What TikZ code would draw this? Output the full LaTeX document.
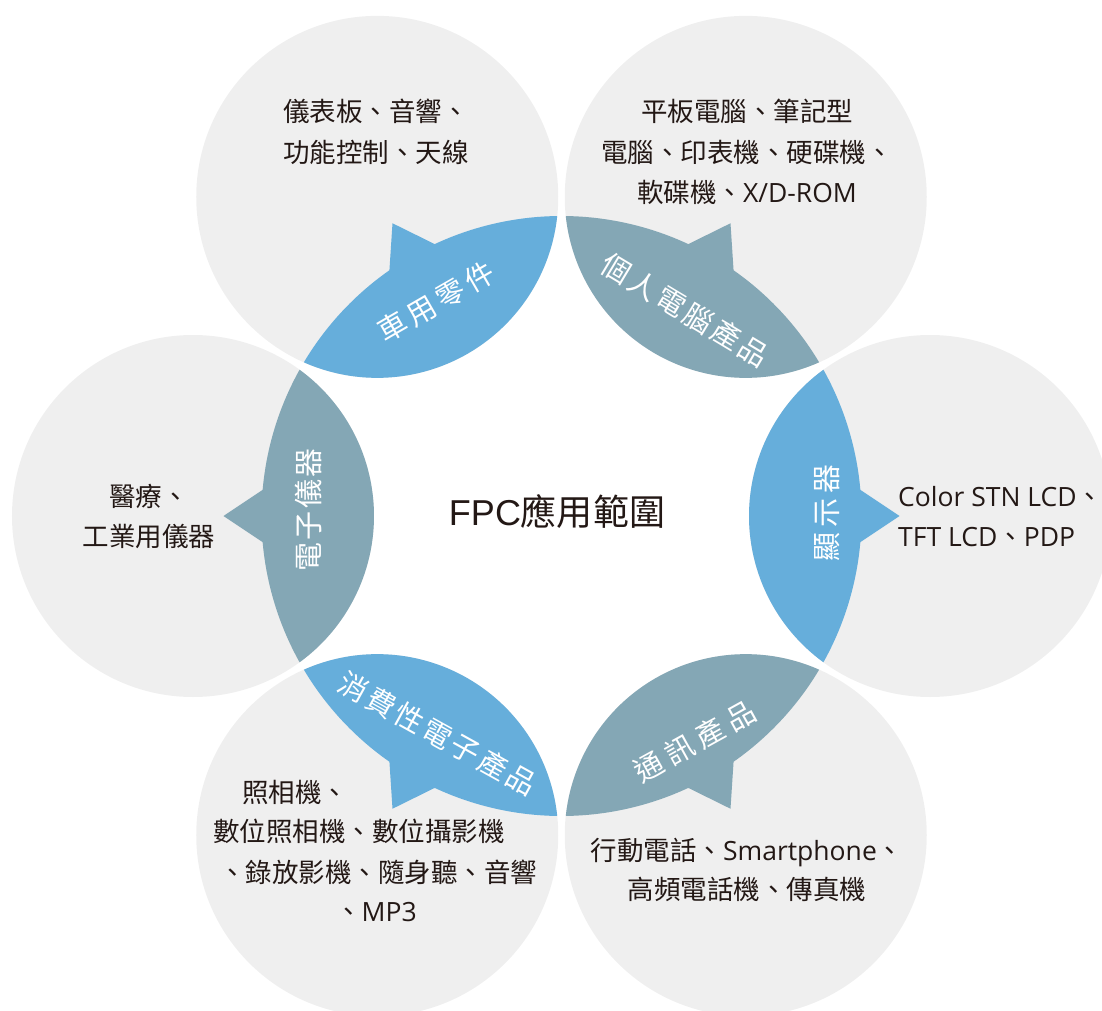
\documentclass[tikz,border=0pt]{standalone}
\usepackage{fontspec}
\setmainfont{Open Sans}
\newfontfamily\cjk{Noto Sans CJK TC}
\newfontfamily\osans{Open Sans}
\newfontfamily\arialf{Liberation Sans}
\definecolor{circfill}{HTML}{EFEFEF}
\definecolor{lensblue}{HTML}{66AEDB}
\definecolor{lensgray}{HTML}{84A7B5}
\definecolor{txtcol}{HTML}{231815}
\tikzset{
  bub/.style={fill=circfill},
  itemtxt/.style={inner sep=0pt, text=txtcol, font=\cjk\fontsize{26.5}{30}\selectfont, text height=23pt, text depth=3.5pt},
  lenstxt/.style={inner sep=0pt, text=white, font=\cjk\fontsize{29}{32}\selectfont},
  centertxt/.style={inner sep=0pt, text=txtcol, font=\arialf\fontsize{36}{40}\selectfont},
}
\begin{document}
\begin{tikzpicture}[x=1pt,y=1pt]
\useasboundingbox (-561.5,-494) rectangle (540.5,516);
\clip (-561.5,-494) rectangle (540.5,516);
% outer circles
\foreach \a in {0,60,...,300} \fill[bub] (\a:368.5) circle[radius=181];
% lens arrows
\foreach \a/\c in {0/lensblue,60/lensgray,120/lensblue,180/lensgray,240/lensblue,300/lensgray}{
  \fill[\c] ({\a-29.185}:300) arc[start angle={\a-29.185}, end angle={\a-5}, radius=300]
    -- (\a:338) -- ({\a+5}:300)
    arc[start angle={\a+5}, end angle={\a+29.185}, radius=300]
    arc[start angle={\a+126.08}, end angle={\a+233.92}, radius=181] -- cycle;
}
% lens labels
\node[lenstxt, rotate=30] (l120) at (-125.5,214) {車\kern4.5pt 用\kern4.5pt 零\kern4.5pt 件};
\node[lenstxt, rotate=-31] (l60) at (123.5,206) {個\kern3pt 人\kern3pt 電\kern3pt 腦\kern3pt 產\kern3pt 品};
\node[lenstxt, rotate=90] (l0) at (265.5,3) {顯\kern5pt 示\kern5pt 器};
\node[lenstxt, rotate=90] (l180) at (-253.5,6) {電\kern2.5pt 子\kern2.5pt 儀\kern2.5pt 器};
\node[lenstxt, rotate=-29] (l240) at (-124,-217.5) {消\kern3pt 費\kern3pt 性\kern3pt 電\kern3pt 子\kern3pt 產\kern3pt 品};
\node[lenstxt, rotate=29] (l300) at (133.5,-225) {通\kern6pt 訊\kern6pt 產\kern6pt 品};
% centre
\node[centertxt] (ctr) at (-4.5,4) {FPC{\cjk 應用範圍}};
% top-left circle
\node[itemtxt] (tla) at (-185.5,404) {儀表板、音響、};
\node[itemtxt] (tlb) at (-185.5,363) {功能控制、天線};
% top-right circle
\node[itemtxt] (tra) at (185.5,404) {平板電腦、筆記型};
\node[itemtxt] (trb) at (185.5,363) {電腦、印表機、硬碟機、};
\node[itemtxt] (trc) at (185.5,323) {軟碟機、{\osans X/D-ROM}};
% right circle
\node[itemtxt, anchor=west] (ra) at (336.5,19) {{\osans Color STN LCD}、};
\node[itemtxt, anchor=west] (rb) at (336.5,-21) {{\osans TFT LCD}、{\osans PDP}};
% left circle
\node[itemtxt] (la) at (-412.5,19) {醫療、};
\node[itemtxt] (lb) at (-412.5,-21) {工業用儀器};
% bottom-left circle
\node[itemtxt, anchor=west] (bla) at (-319.5,-277) {照相機、};
\node[itemtxt, anchor=west] (blb) at (-348.5,-316) {數位照相機、數位攝影機};
\node[itemtxt, anchor=west] (blc) at (-342.5,-357) {、錄放影機、隨身聽、音響};
\node[itemtxt, anchor=west] (bld) at (-226.5,-396) {、{\osans MP3}};
% bottom-right circle
\node[itemtxt] (bra) at (185.5,-335) {行動電話、{\osans Smartphone}、};
\node[itemtxt] (brb) at (185.5,-374) {高頻電話機、傳真機};
\end{tikzpicture}
\end{document}
